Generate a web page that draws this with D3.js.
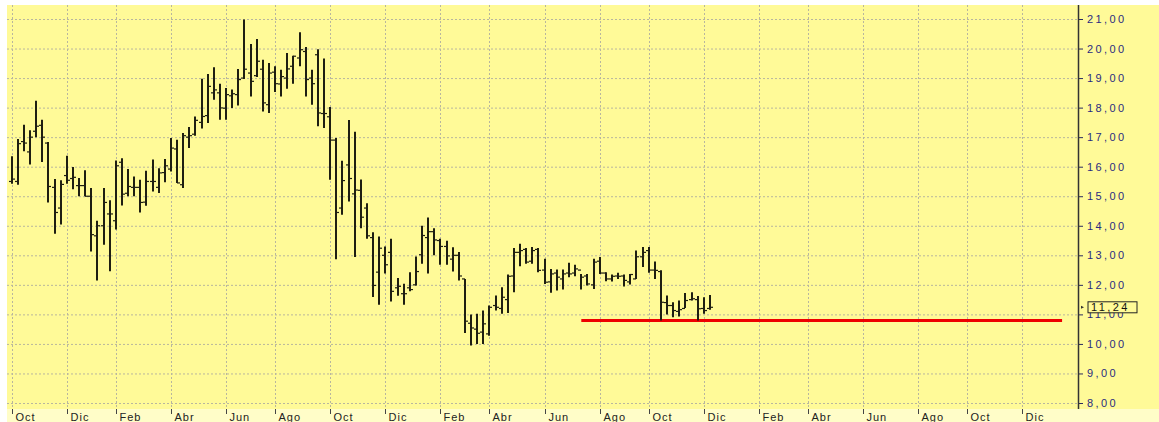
<!DOCTYPE html>
<html>
<head>
<meta charset="utf-8">
<script src="https://cdn.jsdelivr.net/npm/d3@7"></script>
<style>
  body { margin: 0; background: #fff; }
  svg { display: block; }
</style>
</head>
<body>
<script>
// weekly bars, one per friday from 5 Oct 2007
const highs = [16.35,16.94,17.42,17.23,18.23,17.59,16.84,15.58,15.54,16.37,
  15.99,15.62,15.88,15.28,14.17,15.28,14.86,16.21,16.29,15.92,
  15.67,15.56,15.86,16.24,15.95,16.26,16.97,16.91,17.14,17.34,
  17.70,18.98,19.14,19.37,18.81,18.66,18.61,19.31,20.98,20.15,
  20.32,19.62,19.51,19.40,19.28,19.85,19.76,20.55,20.05,19.28,
  19.98,19.66,18.02,16.97,16.20,17.58,17.18,15.57,14.76,13.78,
  13.64,13.30,13.56,12.23,12.04,12.43,12.96,14.00,14.28,13.92,
  13.56,13.49,13.27,13.11,12.20,11.00,11.02,11.13,11.30,11.64,
  11.92,12.35,13.25,13.39,13.25,13.28,13.25,12.88,12.54,12.52,
  12.52,12.75,12.68,12.37,12.37,12.88,12.94,12.43,12.35,12.41,
  12.35,12.37,13.16,13.28,13.28,12.79,12.49,11.64,11.41,11.47,
  11.72,11.75,11.62,11.58,11.66];
const lows = [15.42,15.39,16.52,16.07,17.00,16.16,14.79,13.73,14.04,15.42,
  15.24,15.00,15.00,13.13,12.15,13.36,12.46,13.87,14.69,15.00,
  15.00,14.45,14.68,15.16,15.11,15.47,15.84,15.45,15.28,16.63,
  17.05,17.29,17.48,18.27,17.59,17.59,17.99,18.07,18.97,18.38,
  19.04,17.87,17.82,18.53,18.38,18.64,18.81,19.40,18.38,18.10,
  17.37,17.31,15.56,12.87,14.37,14.82,12.94,13.92,13.56,11.59,
  11.33,12.38,11.44,11.63,11.33,11.78,11.98,12.71,12.38,13.00,
  12.68,12.68,12.45,12.15,10.37,9.95,10.00,10.00,10.28,11.13,
  11.02,11.05,11.75,12.63,12.71,12.71,12.43,12.03,11.73,11.81,
  11.84,12.26,12.29,11.84,11.98,11.86,12.37,12.12,12.11,12.20,
  11.94,12.01,12.20,12.60,12.41,12.20,10.79,11.00,10.90,10.93,
  11.22,11.47,10.79,11.02,11.16];
const opens = [15.50,15.50,16.85,16.50,17.20,17.40,16.80,15.30,14.60,15.70,
  15.60,15.36,15.36,15.00,13.66,14.00,14.40,14.17,16.15,15.10,
  15.30,15.30,14.80,15.50,15.30,15.80,15.92,16.60,15.39,17.00,
  17.10,17.50,17.73,18.50,18.50,17.98,18.40,18.44,19.00,19.17,
  19.08,19.30,18.10,19.20,18.80,19.00,19.40,19.68,19.90,19.00,
  19.79,17.80,17.69,16.90,14.60,16.06,15.08,15.20,14.60,13.60,
  12.43,13.00,13.10,11.90,11.70,11.90,12.00,13.02,13.60,13.80,
  13.50,13.30,12.87,13.00,12.20,10.70,10.50,10.40,10.34,11.30,
  11.20,11.50,12.30,13.10,13.20,12.80,13.20,12.50,12.10,12.40,
  12.20,12.40,12.40,12.50,12.30,12.00,12.80,12.40,12.20,12.30,
  12.30,12.10,12.20,12.95,13.16,12.50,12.45,11.40,11.30,11.10,
  11.20,11.50,11.50,11.20,11.20];
const closes = [15.58,16.78,16.80,17.00,17.37,17.00,15.33,14.45,15.40,15.54,
  15.64,15.36,15.00,13.70,14.00,14.79,14.40,16.03,15.07,15.33,
  15.30,14.79,15.50,15.50,15.79,16.03,16.63,15.45,17.05,17.05,
  17.57,17.70,18.72,18.60,17.99,18.44,18.47,18.95,19.30,18.89,
  19.57,18.16,19.17,18.81,19.05,19.31,19.74,19.96,18.95,18.81,
  17.82,17.80,16.90,14.45,15.53,15.60,15.21,14.29,13.66,11.98,
  13.24,12.68,11.78,11.95,11.70,11.84,12.45,13.67,13.80,13.52,
  13.30,12.98,13.00,12.30,10.77,10.54,10.36,10.68,11.24,11.24,
  11.58,12.29,13.10,13.16,12.77,13.16,12.49,12.09,12.37,12.26,
  12.37,12.37,12.54,12.26,12.03,12.77,12.40,12.20,12.29,12.29,
  12.15,12.35,12.95,13.10,12.50,12.49,11.41,11.30,11.13,11.16,
  11.47,11.53,11.19,11.13,11.24];

const firstFriday = new Date(2007, 9, 5);
const lastFriday = new Date(2011, 0, 29);
const monthNames = ["Ene","Feb","Mar","Abr","May","Jun","Jul","Ago","Sep","Oct","Nov","Dic"];
const priceTicks = d3.range(8, 22);
// soporte trazado a mano (semana inicio, semana fin, nivel)
const supportFrom = 93, supportTo = 171.5, supportLevel = 10.79;

const width = 1159, height = 422;
const plotLeft = 7, plotTop = 5, plotRight = 1078, plotBottom = 409, panelRight = 1159;

const weeks = d3.timeFriday.range(firstFriday, lastFriday);
const monthTicks = weeks.map((d, i) => i).filter(i =>
  weeks[i].getMonth() % 2 === 1 && (i === 0 || weeks[i].getMonth() !== weeks[i-1].getMonth()));

const fmt = d => d3.format(".2f")(d).replace(".", ",");

const x = d3.scaleLinear()
    .domain([-0.77, 174.1])
    .range([plotLeft, plotRight]);
const y = d3.scaleLinear()
    .domain([8, 21])
    .range([403, 19]);

const svg = d3.select("body").append("svg")
    .attr("width", width)
    .attr("height", height);

svg.append("rect")
    .attr("x", plotLeft).attr("y", plotTop)
    .attr("width", panelRight - plotLeft).attr("height", plotBottom - plotTop)
    .attr("fill", "#fffa98");
svg.append("rect")
    .attr("x", plotLeft).attr("y", plotBottom)
    .attr("width", panelRight - plotLeft).attr("height", height - plotBottom)
    .attr("fill", "#fffdc8");

// grid
svg.append("g")
    .selectAll("line")
    .data(priceTicks)
    .enter().append("line")
    .attr("x1", plotLeft).attr("x2", plotRight)
    .attr("y1", d => y(d) + 0.5).attr("y2", d => y(d) + 0.5)
    .attr("stroke", "#b8b69e")
    .attr("stroke-dasharray", "2,2");
svg.append("g")
    .selectAll("line")
    .data(monthTicks)
    .enter().append("line")
    .attr("x1", d => Math.round(x(d)) + 0.5).attr("x2", d => Math.round(x(d)) + 0.5)
    .attr("y1", plotTop).attr("y2", plotBottom)
    .attr("stroke", "#b8b69e")
    .attr("stroke-dasharray", "2,2");

// support line
svg.append("line")
    .attr("x1", x(supportFrom)).attr("x2", x(supportTo))
    .attr("y1", y(supportLevel)).attr("y2", y(supportLevel))
    .attr("stroke", "#ee0000")
    .attr("stroke-width", 3);

// bars
const bars = svg.append("g")
    .selectAll("g")
    .data(highs)
    .enter().append("g")
    .attr("transform", (d, i) => "translate(" + Math.round(x(i)) + ",0)");
bars.append("line")
    .attr("x1", 0).attr("x2", 0)
    .attr("y1", d => y(d)).attr("y2", (d, i) => y(lows[i]))
    .attr("stroke", "#1e1e12")
    .attr("stroke-width", 2);
bars.append("line")
    .attr("x1", -3).attr("x2", 0)
    .attr("y1", (d, i) => y(opens[i])).attr("y2", (d, i) => y(opens[i]))
    .attr("stroke", "#1e1e12")
    .attr("stroke-width", 1.2);
bars.append("line")
    .attr("x1", 0).attr("x2", 3)
    .attr("y1", (d, i) => y(closes[i])).attr("y2", (d, i) => y(closes[i]))
    .attr("stroke", "#1e1e12")
    .attr("stroke-width", 1.2);

// price axis
const yAxis = d3.axisRight(y)
    .tickValues(priceTicks)
    .tickFormat(fmt)
    .tickSize(5)
    .tickPadding(4);
const ya = svg.append("g")
    .attr("transform", "translate(" + plotRight + ",0)")
    .call(yAxis);
ya.select(".domain").remove();
ya.selectAll("line").attr("stroke", "#2a2a60");
ya.selectAll("text")
    .attr("fill", "#2a2a80")
    .style("font-family", "Liberation Sans, Arial, sans-serif")
    .style("font-size", "11px")
    .style("letter-spacing", "2.4px");
svg.append("line")
    .attr("x1", plotRight + 0.5).attr("x2", plotRight + 0.5)
    .attr("y1", plotTop).attr("y2", plotBottom)
    .attr("stroke", "#333")
    .attr("stroke-width", 1.5);

// last price label
const last = closes[closes.length - 1];
const tag = svg.append("g")
    .attr("transform", "translate(" + plotRight + "," + y(last) + ")");
tag.append("rect")
    .attr("x", 10).attr("y", -5.5)
    .attr("width", 49).attr("height", 11)
    .attr("fill", "#fffa98")
    .attr("stroke", "#222");
tag.append("path")
    .attr("d", "M3,-1.5L6,0L3,1.5Z")
    .attr("fill", "#333");
tag.append("text")
    .attr("x", 13).attr("y", 4)
    .attr("fill", "#111")
    .style("font-family", "Liberation Sans, Arial, sans-serif")
    .style("font-size", "11px")
    .style("letter-spacing", "2.4px")
    .text(fmt(last));

// month axis
const xAxis = d3.axisBottom(x)
    .tickValues(monthTicks)
    .tickFormat(i => monthNames[weeks[i].getMonth()])
    .tickSize(5);
const xa = svg.append("g")
    .attr("transform", "translate(0," + plotBottom + ")")
    .call(xAxis);
xa.select(".domain").remove();
xa.selectAll(".tick").attr("transform", d => "translate(" + (Math.round(x(d)) + 0.5) + ",0)");
xa.selectAll("line").attr("stroke", "#444");
xa.selectAll("text")
    .attr("y", 12).attr("dy", 0)
    .attr("x", 3)
    .attr("text-anchor", "start")
    .attr("fill", "#222")
    .style("font-family", "Liberation Sans, Arial, sans-serif")
    .style("font-size", "11px")
    .style("letter-spacing", "1px");
</script>
</body>
</html>
